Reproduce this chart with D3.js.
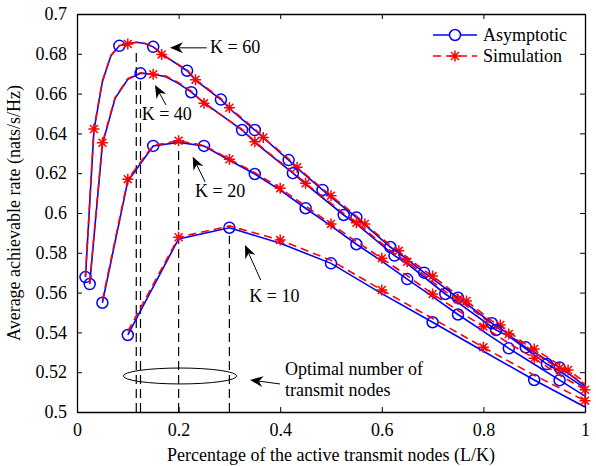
<!DOCTYPE html>
<html>
<head>
<meta charset="utf-8">
<script src="https://cdn.jsdelivr.net/npm/d3@7"></script>
<style>
  body { margin: 0; background: #fff; }
  svg text { font-family: 'Liberation Serif', 'Times New Roman', serif; }
</style>
</head>
<body>
<div id="chart"></div>
<script>
// x ticks / y ticks
const xTicks = [0, 0.2, 0.4, 0.6, 0.8, 1]
const xTickLabels = ['0', '0.2', '0.4', '0.6', '0.8', '1']
const yTicks = [0.5, 0.52, 0.54, 0.56, 0.58, 0.6, 0.62, 0.64, 0.66, 0.68, 0.7]
const yTickLabels = ['0.5', '0.52', '0.54', '0.56', '0.58', '0.6', '0.62', '0.64', '0.66', '0.68', '0.7']

// K = 60
const k60L = [1, 2, 3, 4, 5, 6, 7, 8, 9, 10, 13, 14, 17, 18, 21, 22, 25, 26, 29, 30, 33, 34, 37, 38, 41, 42, 45, 46, 49, 50, 53, 54, 57, 58, 60]
const k60Asym = [0.5678, 0.6415, 0.6660, 0.6790, 0.6840, 0.6852, 0.6858, 0.6852, 0.6835, 0.6800, 0.6715, 0.6668, 0.6570, 0.6525, 0.6417, 0.6378, 0.6266, 0.6225, 0.6116, 0.6080, 0.5978, 0.5940, 0.5829, 0.5800, 0.5700, 0.5670, 0.5574, 0.5545, 0.5446, 0.5420, 0.5325, 0.5300, 0.5223, 0.5195, 0.5130]
const k60Sim = [0.5685, 0.6422, 0.6665, 0.6792, 0.6842, 0.6849, 0.6858, 0.6853, 0.6838, 0.6797, 0.6720, 0.6670, 0.6575, 0.6529, 0.6423, 0.6380, 0.6272, 0.6230, 0.6122, 0.6087, 0.5985, 0.5945, 0.5838, 0.5810, 0.5712, 0.5683, 0.5585, 0.5558, 0.5458, 0.5437, 0.5340, 0.5317, 0.5237, 0.5211, 0.5150]
const k60Circles = [1, 5, 9, 13, 17, 21, 25, 29, 33, 37, 41, 45, 49, 53, 57]
const k60Stars = [2, 6, 10, 14, 18, 22, 26, 30, 34, 38, 42, 46, 50, 54, 58]

// K = 40
const k40L = [1, 2, 3, 4, 5, 6, 7, 8, 9, 10, 13, 14, 17, 18, 21, 22, 25, 26, 29, 30, 33, 34, 37, 38, 40]
const k40Asym = [0.5643, 0.6345, 0.6576, 0.6672, 0.6702, 0.6697, 0.6685, 0.6650, 0.6607, 0.6555, 0.6417, 0.6355, 0.6200, 0.6145, 0.5990, 0.5945, 0.5786, 0.5745, 0.5593, 0.5550, 0.5412, 0.5380, 0.5241, 0.5205, 0.5120]
const k40Sim = [0.5650, 0.6353, 0.6580, 0.6675, 0.6705, 0.6697, 0.6688, 0.6655, 0.6612, 0.6551, 0.6420, 0.6358, 0.6205, 0.6149, 0.5998, 0.5951, 0.5795, 0.5755, 0.5605, 0.5566, 0.5425, 0.5392, 0.5255, 0.5220, 0.5140]
const k40Circles = [1, 5, 9, 13, 17, 21, 25, 29, 33, 37]
const k40Stars = [2, 6, 10, 14, 18, 22, 26, 30, 34, 38]

// K = 20
const k20L = [1, 2, 3, 4, 5, 6, 7, 8, 9, 10, 11, 12, 13, 14, 15, 16, 17, 18, 19, 20]
const k20Asym = [0.5549, 0.6160, 0.6337, 0.6355, 0.6337, 0.6265, 0.6196, 0.6115, 0.6024, 0.5935, 0.5843, 0.5758, 0.5668, 0.5580, 0.5490, 0.5405, 0.5320, 0.5240, 0.5160, 0.5080]
const k20Sim = [0.5560, 0.6170, 0.6340, 0.6363, 0.6340, 0.6270, 0.6203, 0.6124, 0.6035, 0.5945, 0.5856, 0.5772, 0.5685, 0.5593, 0.5510, 0.5429, 0.5345, 0.5270, 0.5185, 0.5112]
const k20Circles = [1, 3, 5, 7, 9, 11, 13, 15, 17, 19]
const k20Stars = [2, 4, 6, 8, 10, 12, 14, 16, 18, 20]

// K = 10
const k10L = [1, 2, 3, 4, 5, 6, 7, 8, 9, 10]
const k10Asym = [0.5387, 0.5870, 0.5926, 0.5848, 0.5747, 0.5595, 0.5451, 0.5305, 0.5161, 0.5025]
const k10Sim = [0.5405, 0.5878, 0.5935, 0.5864, 0.5762, 0.5613, 0.5470, 0.5325, 0.5185, 0.5057]
const k10Circles = [1, 3, 5, 7, 9]
const k10Stars = [2, 4, 6, 8, 10]

// optimal L/K for each K (dashed verticals) and the peak rate there
const optimalX = [7 / 60, 5 / 40, 4 / 20, 3 / 10]
const optimalY = [0.6858, 0.6702, 0.6355, 0.5926]

const curves = [
  { K: 60, L: k60L, asym: k60Asym, sim: k60Sim, circles: k60Circles, stars: k60Stars },
  { K: 40, L: k40L, asym: k40Asym, sim: k40Sim, circles: k40Circles, stars: k40Stars },
  { K: 20, L: k20L, asym: k20Asym, sim: k20Sim, circles: k20Circles, stars: k20Stars },
  { K: 10, L: k10L, asym: k10Asym, sim: k10Sim, circles: k10Circles, stars: k10Stars }
]

const serif = "'Liberation Serif', 'Times New Roman', serif"
const margin = { top: 14, right: 11, bottom: 54, left: 77 }
const width = 596 - margin.left - margin.right
const height = 466 - margin.top - margin.bottom

const svg = d3.select('#chart')
  .append('svg')
  .attr('width', 596)
  .attr('height', 466)
  .append('g')
  .attr('transform', `translate(${margin.left}, ${margin.top})`)

const x = d3.scaleLinear().domain([0, 1]).range([0, width])
const y = d3.scaleLinear().domain([0.5, 0.7]).range([height, 0])

// axes (ticks inward, box on)
const fmtX = d => xTickLabels[xTicks.indexOf(d)]
const fmtY = d => yTickLabels[yTicks.indexOf(d)]

svg.append('g')
  .attr('transform', `translate(0, ${height})`)
  .call(d3.axisBottom(x).tickValues(xTicks).tickFormat(fmtX).tickSize(-5).tickSizeOuter(0).tickPadding(11))
svg.append('g')
  .call(d3.axisTop(x).tickValues(xTicks).tickFormat('').tickSize(-5).tickSizeOuter(0))
svg.append('g')
  .call(d3.axisLeft(y).tickValues(yTicks).tickFormat(fmtY).tickSize(-5).tickSizeOuter(0).tickPadding(10))
svg.append('g')
  .attr('transform', `translate(${width}, 0)`)
  .call(d3.axisRight(y).tickValues(yTicks).tickFormat('').tickSize(-5).tickSizeOuter(0))

svg.selectAll('.domain').attr('stroke', '#000').attr('stroke-width', 1.3)
svg.selectAll('.tick line').attr('stroke', '#000')
svg.selectAll('.tick text')
  .attr('font-family', serif)
  .attr('font-size', 18)
  .attr('fill', '#000')

// dashed optimal lines
svg.append('g')
  .selectAll('line')
  .data(optimalX)
  .join('line')
  .attr('x1', d => x(d))
  .attr('x2', d => x(d))
  .attr('y1', y(0.5))
  .attr('y2', (d, i) => y(optimalY[i]) + 8)
  .attr('stroke', '#000')
  .attr('stroke-width', 1.2)
  .attr('stroke-dasharray', '9,5')

const line = d3.line()
  .x(d => x(d[0]))
  .y(d => y(d[1]))

const starPath = function (s) {
  const t = s * 0.72
  return `M${-s},0L${s},0M0,${-s}L0,${s}M${-t},${-t}L${t},${t}M${-t},${t}L${t},${-t}`
}

curves.forEach(c => {
  const asymPts = c.L.map((l, i) => [l / c.K, c.asym[i]])
  const simPts = c.L.map((l, i) => [l / c.K, c.sim[i]])

  svg.append('path')
    .datum(asymPts)
    .attr('d', line)
    .attr('fill', 'none')
    .attr('stroke', '#0000ff')
    .attr('stroke-width', 1.6)

  svg.append('g')
    .selectAll('circle')
    .data(asymPts.filter((d, i) => c.circles.includes(c.L[i])))
    .join('circle')
    .attr('cx', d => x(d[0]))
    .attr('cy', d => y(d[1]))
    .attr('r', 5.5)
    .attr('fill', 'none')
    .attr('stroke', '#0000ff')
    .attr('stroke-width', 1.5)

  svg.append('path')
    .datum(simPts)
    .attr('d', line)
    .attr('fill', 'none')
    .attr('stroke', '#ff0000')
    .attr('stroke-width', 1.6)
    .attr('stroke-dasharray', '8,5')

  svg.append('g')
    .selectAll('path')
    .data(simPts.filter((d, i) => c.stars.includes(c.L[i])))
    .join('path')
    .attr('transform', d => `translate(${x(d[0])}, ${y(d[1])})`)
    .attr('d', starPath(5.5))
    .attr('stroke', '#ff0000')
    .attr('stroke-width', 1.5)
})

// annotations: arrows (tip, tail) and labels, in data units
const arrowTips = [[0.183, 0.683], [0.1535, 0.6643], [0.2278, 0.6283], [0.3307, 0.5839], [0.3406, 0.5161]]
const arrowTails = [[0.2553, 0.683], [0.1752, 0.6543], [0.252, 0.6157], [0.3616, 0.5663], [0.3996, 0.5141]]
const labelText = ['K = 60', 'K = 40', 'K = 20', 'K = 10', 'Optimal number of', 'transmit nodes']
const labelPos = [[0.262, 0.6804], [0.1274, 0.6467], [0.2323, 0.6082], [0.3392, 0.5554], [0.4094, 0.5186], [0.4094, 0.5080]]

arrowTips.forEach((tip, i) => {
  const x1 = x(arrowTails[i][0])
  const y1 = y(arrowTails[i][1])
  const x2 = x(tip[0])
  const y2 = y(tip[1])
  const ang = Math.atan2(y2 - y1, x2 - x1)
  const len = 13
  const w = 5.5
  const back = 9
  const bx = x2 - len * Math.cos(ang)
  const by = y2 - len * Math.sin(ang)
  const cx = x2 - back * Math.cos(ang)
  const cy = y2 - back * Math.sin(ang)
  svg.append('line')
    .attr('x1', x1).attr('y1', y1)
    .attr('x2', cx).attr('y2', cy)
    .attr('stroke', '#000')
    .attr('stroke-width', 1)
  svg.append('path')
    .attr('d', `M${x2},${y2}L${bx - w * Math.sin(ang)},${by + w * Math.cos(ang)}L${cx},${cy}L${bx + w * Math.sin(ang)},${by - w * Math.cos(ang)}Z`)
    .attr('fill', '#000')
})

svg.append('g')
  .selectAll('text')
  .data(labelText)
  .join('text')
  .attr('x', (d, i) => x(labelPos[i][0]))
  .attr('y', (d, i) => y(labelPos[i][1]))
  .attr('font-family', serif)
  .attr('font-size', 18)
  .text(d => d)

// ellipse round the optimal points
svg.append('ellipse')
  .attr('cx', x(0.2028))
  .attr('cy', y(0.5181))
  .attr('rx', x(0.1116) - x(0))
  .attr('ry', y(0.5) - y(0.504))
  .attr('fill', 'none')
  .attr('stroke', '#000')
  .attr('stroke-width', 1)

// legend
const legend = svg.append('g').attr('transform', `translate(${433 - margin.left}, ${35 - margin.top})`)
legend.append('line').attr('x1', 0).attr('x2', 44).attr('y1', 0).attr('y2', 0)
  .attr('stroke', '#0000ff').attr('stroke-width', 1.6)
legend.append('circle').attr('cx', 22).attr('cy', 0).attr('r', 5.5)
  .attr('fill', '#fff').attr('stroke', '#0000ff').attr('stroke-width', 1.5)
legend.append('line').attr('x1', 0).attr('x2', 44).attr('y1', 21).attr('y2', 21)
  .attr('stroke', '#ff0000').attr('stroke-width', 1.6).attr('stroke-dasharray', '8,5')
legend.append('path').attr('transform', 'translate(22, 21)').attr('d', starPath(5.5))
  .attr('stroke', '#ff0000').attr('stroke-width', 1.5)
legend.append('text').attr('x', 50).attr('y', 6).attr('font-family', serif).attr('font-size', 18).text('Asymptotic')
legend.append('text').attr('x', 50).attr('y', 27).attr('font-family', serif).attr('font-size', 18).text('Simulation')

// axis labels
svg.append('text')
  .attr('text-anchor', 'middle')
  .attr('x', width / 2)
  .attr('y', height + 49)
  .attr('font-family', serif)
  .attr('font-size', 18)
  .text('Percentage of the active transmit nodes (L/K)')

svg.append('text')
  .attr('text-anchor', 'middle')
  .attr('transform', `translate(${-57}, ${height / 2}) rotate(-90)`)
  .attr('font-family', serif)
  .attr('font-size', 18)
  .text('Average achievable rate (nats/s/Hz)')
</script>
</body>
</html>
